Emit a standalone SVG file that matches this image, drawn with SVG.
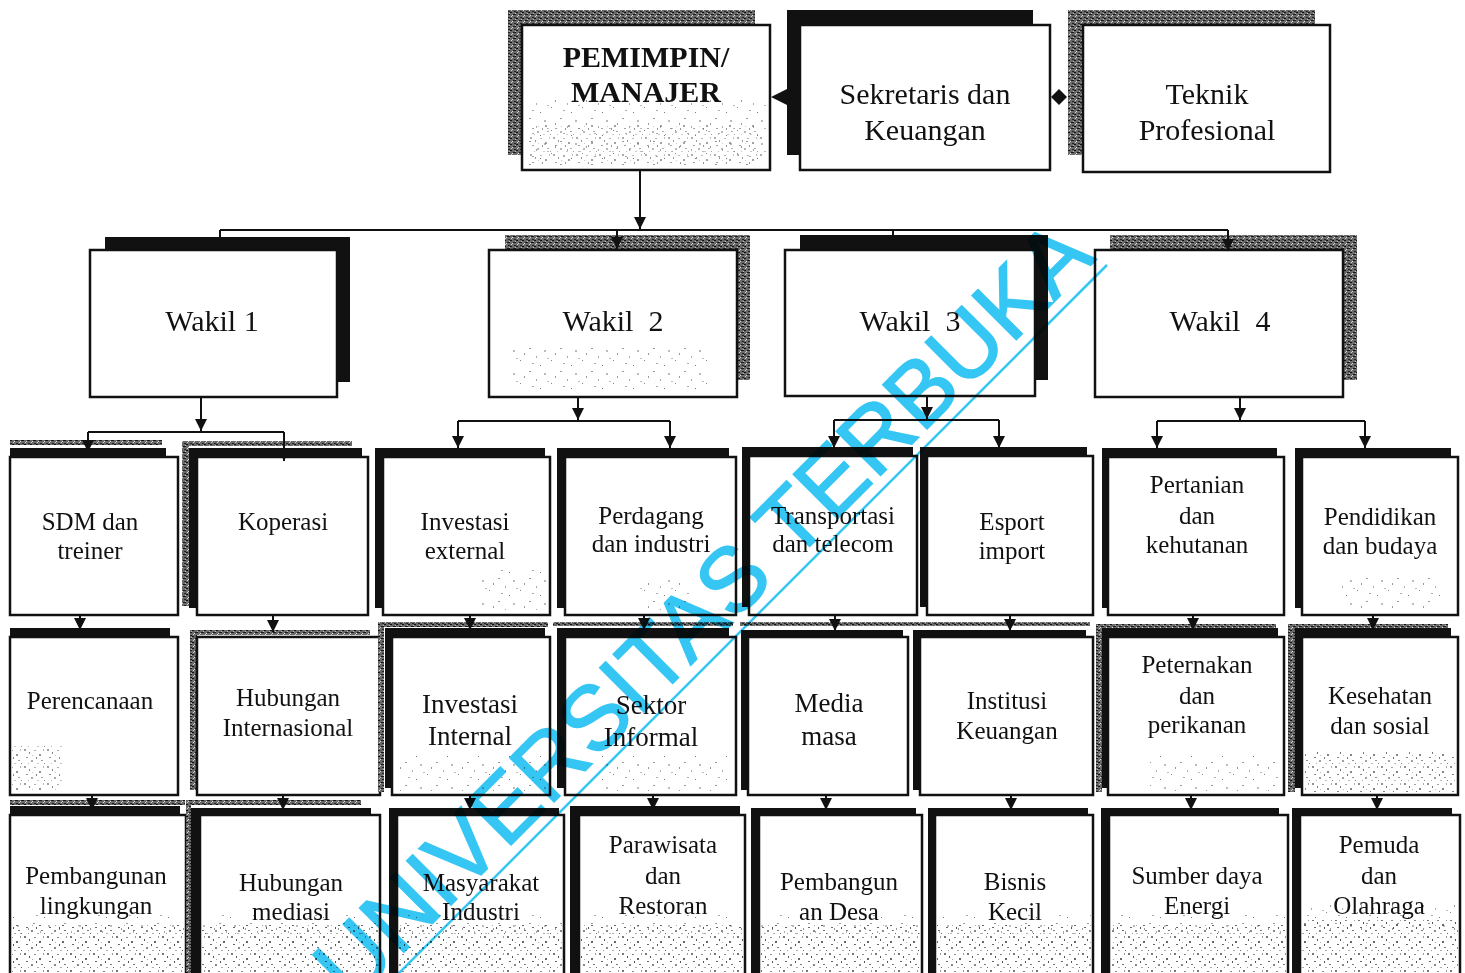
<svg xmlns="http://www.w3.org/2000/svg" width="1465" height="973" viewBox="0 0 1465 973">
<style>
.box{fill:#fff;stroke:#111;stroke-width:2.5}
.sh{fill:#111}
.tx{fill:url(#tex)}
.spk{fill:url(#spk)}
.spkh{fill:url(#spkh)}
.t{font-family:"Liberation Serif","Times New Roman",serif;font-size:25px;text-anchor:middle;fill:#111}
.t27{font-size:27px}
.t30{font-size:30px}
.b{font-weight:bold}
.c{stroke:#111;stroke-width:2;fill:none}
.ca{stroke:#111;stroke-width:2;fill:none;marker-end:url(#ah)}
.hd{fill:#111}
.wm{font-family:"Liberation Sans",Arial,sans-serif;font-size:91px;fill:#36c6f4;stroke:#36c6f4;stroke-width:1.5}
</style>
<defs>
<marker id="ah" viewBox="0 0 10 10" refX="10" refY="5" markerWidth="13" markerHeight="12" markerUnits="userSpaceOnUse" orient="auto">
<path d="M0,0 L10,5 L0,10 z" fill="#111"/>
</marker>
<pattern id="tex" width="6" height="6" patternUnits="userSpaceOnUse">
<rect width="6" height="6" fill="#6a6a6a"/>
<rect x="0" y="0" width="2" height="1" fill="#111"/>
<rect x="3" y="2" width="3" height="1" fill="#1a1a1a"/>
<rect x="1" y="4" width="1" height="1" fill="#d0d0d0"/>
<rect x="4" y="5" width="2" height="1" fill="#222"/>
<rect x="5" y="1" width="1" height="1" fill="#bbb"/>
<rect x="2" y="3" width="1" height="1" fill="#ddd"/>
</pattern>
<pattern id="spk" width="31" height="23" patternUnits="userSpaceOnUse">
<rect x="2" y="3" width="2" height="1" fill="#999"/>
<rect x="9" y="11" width="1" height="2" fill="#aaa"/>
<rect x="17" y="5" width="2" height="2" fill="#bbb"/>
<rect x="24" y="15" width="1" height="1" fill="#888"/>
<rect x="5" y="18" width="2" height="1" fill="#aaa"/>
<rect x="28" y="8" width="1" height="2" fill="#999"/>
<rect x="13" y="20" width="1" height="1" fill="#777"/>
<rect x="20" y="13" width="2" height="1" fill="#bbb"/>
</pattern>
<pattern id="spkh" width="23" height="17" patternUnits="userSpaceOnUse">
<rect x="1" y="1" width="2" height="2" fill="#777"/>
<rect x="6" y="4" width="1" height="2" fill="#555"/>
<rect x="11" y="2" width="2" height="1" fill="#888"/>
<rect x="16" y="6" width="2" height="2" fill="#666"/>
<rect x="20" y="1" width="1" height="2" fill="#999"/>
<rect x="3" y="9" width="2" height="1" fill="#666"/>
<rect x="8" y="12" width="2" height="2" fill="#888"/>
<rect x="13" y="9" width="1" height="2" fill="#555"/>
<rect x="18" y="12" width="2" height="1" fill="#777"/>
<rect x="21" y="15" width="1" height="1" fill="#666"/>
<rect x="5" y="15" width="1" height="1" fill="#999"/>
<rect x="14" y="15" width="2" height="1" fill="#aaa"/>
<rect x="9" y="7" width="1" height="1" fill="#aaa"/>
</pattern>
</defs>
<rect width="1465" height="973" fill="#fff"/>

<!-- Top row -->
<g id="pemimpin">
<rect class="tx" x="508" y="10" width="247" height="145"/>
<rect class="box" x="522" y="25" width="248" height="145"/>
<rect class="spk" x="526" y="100" width="240" height="66"/>
<rect class="spkh" x="530" y="125" width="232" height="40" opacity="0.6"/>
<text class="t t30 b" x="646" y="67">PEMIMPIN/</text>
<text class="t t30 b" x="646" y="102">MANAJER</text>
</g>
<g id="sekretaris">
<rect class="sh" x="787" y="10" width="246" height="145"/>
<rect class="box" x="800" y="25" width="250" height="145"/>
<text class="t t30" x="925" y="104">Sekretaris dan</text>
<text class="t t30" x="925" y="140">Keuangan</text>
</g>
<g id="teknik">
<rect class="tx" x="1068" y="10" width="247" height="145"/>
<rect class="box" x="1083" y="25" width="247" height="147"/>
<text class="t t30" x="1207" y="104">Teknik</text>
<text class="t t30" x="1207" y="140">Profesional</text>
</g>

<!-- Wakil row -->
<g id="wakil1">
<rect class="sh" x="105" y="237" width="245" height="145"/>
<rect class="box" x="90" y="250" width="247" height="147"/>
<text class="t t30" x="212" y="331">Wakil 1</text>
</g>
<g id="wakil2">
<rect class="tx" x="505" y="235" width="245" height="145"/>
<rect class="box" x="489" y="250" width="248" height="147"/>
<rect class="spk" x="510" y="345" width="200" height="45"/>
<text class="t t30" x="613" y="331" xml:space="preserve">Wakil  2</text>
</g>
<g id="wakil3">
<rect class="sh" x="800" y="235" width="248" height="145"/>
<rect class="box" x="785" y="250" width="250" height="146"/>
<text class="t t30" x="910" y="331" xml:space="preserve">Wakil  3</text>
</g>
<g id="wakil4">
<rect class="tx" x="1110" y="235" width="247" height="145"/>
<rect class="box" x="1095" y="250" width="248" height="147"/>
<text class="t t30" x="1220" y="331" xml:space="preserve">Wakil  4</text>
</g>

<!-- Row 3 -->
<g id="sdm">
<rect class="tx" x="10" y="440" width="152" height="5"/>
<rect class="sh" x="10" y="448" width="156" height="20"/>
<rect class="box" x="10" y="457" width="168" height="158"/>
<text class="t" x="90" y="530">SDM dan</text>
<text class="t" x="90" y="559">treiner</text>
</g>
<g id="koperasi">
<rect class="tx" x="182" y="441" width="170" height="5"/>
<rect class="tx" x="182" y="441" width="7" height="165"/>
<rect class="sh" x="189" y="448" width="173" height="160"/>
<rect class="box" x="197" y="457" width="171" height="158"/>
<text class="t" x="283" y="530">Koperasi</text>
</g>
<g id="invext">
<rect class="sh" x="375" y="448" width="170" height="160"/>
<rect class="box" x="383" y="457" width="167" height="158"/>
<rect class="spk" x="480" y="570" width="66" height="40"/>
<text class="t" x="465" y="530">Investasi</text>
<text class="t" x="465" y="559">external</text>
</g>
<g id="perdagang">
<rect class="sh" x="557" y="448" width="172" height="160"/>
<rect class="box" x="565" y="457" width="171" height="158"/>
<rect class="spk" x="640" y="580" width="50" height="30"/>
<text class="t" x="651" y="524">Perdagang</text>
<text class="t" x="651" y="552">dan industri</text>
</g>
<g id="transportasi">
<rect class="sh" x="742" y="447" width="171" height="160"/>
<rect class="box" x="749" y="456" width="168" height="159"/>
<text class="t" x="833" y="524">Transportasi</text>
<text class="t" x="833" y="552">dan telecom</text>
</g>
<g id="esport">
<rect class="sh" x="920" y="447" width="167" height="160"/>
<rect class="box" x="927" y="456" width="166" height="159"/>
<text class="t" x="1012" y="530">Esport</text>
<text class="t" x="1012" y="559">import</text>
</g>
<g id="pertanian">
<rect class="sh" x="1102" y="448" width="175" height="160"/>
<rect class="box" x="1108" y="457" width="176" height="158"/>
<text class="t" x="1197" y="493">Pertanian</text>
<text class="t" x="1197" y="524">dan</text>
<text class="t" x="1197" y="553">kehutanan</text>
</g>
<g id="pendidikan">
<rect class="sh" x="1295" y="448" width="156" height="160"/>
<rect class="box" x="1302" y="457" width="156" height="158"/>
<rect class="spk" x="1340" y="578" width="100" height="30"/>
<text class="t" x="1380" y="525">Pendidikan</text>
<text class="t" x="1380" y="554">dan budaya</text>
</g>

<!-- Row 4 -->
<g id="perencanaan">
<rect class="sh" x="10" y="628" width="160" height="20"/>
<rect class="box" x="10" y="637" width="168" height="158"/>
<rect class="spkh" x="12" y="745" width="50" height="45" opacity="0.7"/>
<text class="t" x="90" y="709">Perencanaan</text>
</g>
<g id="hubint">
<rect class="tx" x="190" y="630" width="180" height="5"/>
<rect class="tx" x="190" y="630" width="7" height="160"/>
<rect class="box" x="197" y="637" width="183" height="158"/>
<text class="t" x="288" y="706">Hubungan</text>
<text class="t" x="288" y="736">Internasional</text>
</g>
<g id="invint">
<rect class="tx" x="378" y="622" width="170" height="5"/>
<rect class="tx" x="378" y="622" width="6" height="170"/>
<rect class="sh" x="385" y="628" width="160" height="160"/>
<rect class="box" x="392" y="637" width="158" height="158"/>
<rect class="spk" x="400" y="755" width="146" height="36"/>
<text class="t t27" x="470" y="713">Investasi</text>
<text class="t t27" x="470" y="745">Internal</text>
</g>
<g id="sektor">
<rect class="tx" x="553" y="622" width="180" height="4"/>
<rect class="sh" x="557" y="628" width="172" height="160"/>
<rect class="box" x="565" y="637" width="171" height="158"/>
<rect class="spk" x="600" y="755" width="130" height="36"/>
<text class="t t27" x="651" y="714">Sektor</text>
<text class="t t27" x="651" y="746">Informal</text>
</g>
<g id="media">
<rect class="tx" x="740" y="622" width="172" height="4"/>
<rect class="sh" x="741" y="630" width="162" height="160"/>
<rect class="box" x="748" y="637" width="160" height="158"/>
<text class="t t27" x="829" y="712">Media</text>
<text class="t t27" x="829" y="745">masa</text>
</g>
<g id="institusi">
<rect class="tx" x="910" y="622" width="180" height="4"/>
<rect class="sh" x="913" y="630" width="173" height="160"/>
<rect class="box" x="920" y="637" width="173" height="158"/>
<text class="t" x="1007" y="709">Institusi</text>
<text class="t" x="1007" y="739">Keuangan</text>
</g>
<g id="peternakan">
<rect class="tx" x="1096" y="624" width="180" height="4"/>
<rect class="tx" x="1096" y="624" width="6" height="168"/>
<rect class="sh" x="1102" y="628" width="176" height="160"/>
<rect class="box" x="1108" y="637" width="176" height="158"/>
<rect class="spk" x="1150" y="755" width="130" height="36"/>
<text class="t" x="1197" y="673">Peternakan</text>
<text class="t" x="1197" y="704">dan</text>
<text class="t" x="1197" y="733">perikanan</text>
</g>
<g id="kesehatan">
<rect class="tx" x="1288" y="624" width="160" height="4"/>
<rect class="tx" x="1288" y="624" width="7" height="168"/>
<rect class="sh" x="1295" y="628" width="156" height="160"/>
<rect class="box" x="1302" y="637" width="156" height="158"/>
<rect class="spkh" x="1305" y="752" width="150" height="40" opacity="0.8"/>
<text class="t" x="1380" y="704">Kesehatan</text>
<text class="t" x="1380" y="734">dan sosial</text>
</g>

<!-- Row 5 -->
<g id="pembangunan">
<rect class="tx" x="10" y="800" width="175" height="5"/>
<rect class="sh" x="10" y="806" width="170" height="20"/>
<rect class="box" x="10" y="815" width="176" height="170"/>
<rect class="spk" x="12" y="915" width="172" height="20"/>
<rect class="spkh" x="12" y="925" width="172" height="48"/>
<text class="t" x="96" y="884">Pembangunan</text>
<text class="t" x="96" y="914">lingkungan</text>
</g>
<g id="hubmed">
<rect class="tx" x="186" y="800" width="175" height="5"/>
<rect class="tx" x="186" y="800" width="5" height="173"/>
<rect class="sh" x="191" y="808" width="180" height="170"/>
<rect class="box" x="200" y="815" width="180" height="170"/>
<rect class="spk" x="202" y="915" width="176" height="20"/>
<rect class="spkh" x="202" y="925" width="176" height="48"/>
<text class="t" x="291" y="891">Hubungan</text>
<text class="t" x="291" y="920">mediasi</text>
</g>
<g id="masyarakat">
<rect class="sh" x="389" y="808" width="170" height="170"/>
<rect class="box" x="397" y="815" width="167" height="170"/>
<rect class="spk" x="399" y="915" width="163" height="20"/>
<rect class="spkh" x="399" y="925" width="163" height="48"/>
<text class="t" x="481" y="891">Masyarakat</text>
<text class="t" x="481" y="920">Industri</text>
</g>
<g id="parawisata">
<rect class="sh" x="570" y="806" width="170" height="170"/>
<rect class="box" x="579" y="815" width="166" height="170"/>
<rect class="spk" x="581" y="915" width="162" height="20"/>
<rect class="spkh" x="581" y="925" width="162" height="48"/>
<text class="t" x="663" y="853">Parawisata</text>
<text class="t" x="663" y="884">dan</text>
<text class="t" x="663" y="914">Restoran</text>
</g>
<g id="pembdesa">
<rect class="sh" x="751" y="808" width="165" height="170"/>
<rect class="box" x="759" y="815" width="163" height="170"/>
<rect class="spk" x="761" y="915" width="159" height="20"/>
<rect class="spkh" x="761" y="925" width="159" height="48"/>
<text class="t" x="839" y="890">Pembangun</text>
<text class="t" x="839" y="920">an Desa</text>
</g>
<g id="bisnis">
<rect class="sh" x="928" y="808" width="160" height="170"/>
<rect class="box" x="935" y="815" width="158" height="170"/>
<rect class="spk" x="937" y="915" width="154" height="20"/>
<rect class="spkh" x="937" y="925" width="154" height="48"/>
<text class="t" x="1015" y="890">Bisnis</text>
<text class="t" x="1015" y="920">Kecil</text>
</g>
<g id="sumber">
<rect class="sh" x="1101" y="808" width="178" height="170"/>
<rect class="box" x="1109" y="815" width="179" height="170"/>
<rect class="spk" x="1111" y="915" width="175" height="20"/>
<rect class="spkh" x="1111" y="925" width="175" height="48"/>
<text class="t" x="1197" y="884">Sumber daya</text>
<text class="t" x="1197" y="914">Energi</text>
</g>
<g id="pemuda">
<rect class="sh" x="1292" y="808" width="160" height="170"/>
<rect class="box" x="1300" y="815" width="160" height="170"/>
<rect class="spk" x="1302" y="905" width="156" height="25"/>
<rect class="spkh" x="1302" y="920" width="156" height="53"/>
<text class="t" x="1379" y="853">Pemuda</text>
<text class="t" x="1379" y="884">dan</text>
<text class="t" x="1379" y="914">Olahraga</text>
</g>

<!-- Connectors -->
<g id="connectors">
<polygon class="hd" points="771,97 787,89 787,105"/>
<polygon class="hd" points="1051,97 1059,89 1059,105"/>
<polygon class="hd" points="1067,97 1059,89 1059,105"/>
<path class="ca" d="M640,170 V229"/>
<path class="c" d="M220,230 H1228"/>
<path class="c" d="M220,230 V238"/>
<path class="ca" d="M617,230 V249"/>
<path class="c" d="M893,230 V236"/>
<path class="ca" d="M1228,230 V251"/>

<path class="ca" d="M201,397 V431"/>
<path class="c" d="M88,432 H284"/>
<path class="ca" d="M88,432 V452"/>
<path class="ca" d="M284,432 V461"/>

<path class="ca" d="M578,397 V420"/>
<path class="c" d="M458,421 H670"/>
<path class="ca" d="M458,421 V448"/>
<path class="ca" d="M670,421 V448"/>

<path class="ca" d="M927,396 V419"/>
<path class="c" d="M834,420 H999"/>
<path class="ca" d="M834,420 V448"/>
<path class="ca" d="M999,420 V448"/>

<path class="ca" d="M1240,397 V420"/>
<path class="c" d="M1157,421 H1365"/>
<path class="ca" d="M1157,421 V448"/>
<path class="ca" d="M1365,421 V448"/>

<path class="ca" d="M80,615 V630"/>
<path class="ca" d="M273,615 V632"/>
<path class="ca" d="M470,615 V630"/>
<path class="ca" d="M644,615 V630"/>
<path class="ca" d="M835,615 V631"/>
<path class="ca" d="M1010,615 V631"/>
<path class="ca" d="M1193,615 V630"/>
<path class="ca" d="M1373,615 V630"/>

<path class="ca" d="M92,795 V810"/>
<path class="ca" d="M283,795 V810"/>
<path class="ca" d="M470,795 V810"/>
<path class="ca" d="M653,795 V810"/>
<path class="ca" d="M826,795 V810"/>
<path class="ca" d="M1011,795 V810"/>
<path class="ca" d="M1191,795 V810"/>
<path class="ca" d="M1377,795 V810"/>
</g>

<!-- Watermark -->
<g id="watermark" style="mix-blend-mode:multiply">
<text class="wm" x="352" y="1004" transform="rotate(-45 352 1004)">UNIVERSITAS TERBUKA</text>
<path d="M1107,265 L395,977" stroke="#36c6f4" stroke-width="2.5" fill="none"/>
</g>
</svg>
